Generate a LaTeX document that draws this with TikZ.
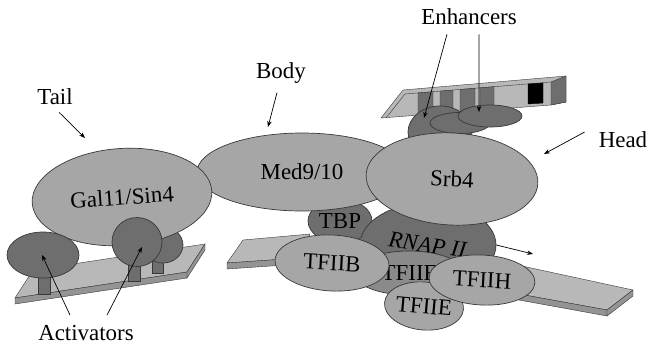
\documentclass[tikz,border=0pt]{standalone}
\usepackage{fontspec}
\setmainfont{Liberation Serif}
\usetikzlibrary{shapes.geometric,arrows.meta,positioning}

\definecolor{protlight}{gray}{0.65}
\definecolor{protmid}{gray}{0.54}
\definecolor{protdark}{gray}{0.43}
\definecolor{protline}{gray}{0.22}
\definecolor{dnaface}{gray}{0.72}
\definecolor{dnaedge}{gray}{0.58}

\tikzset{
	prot/.style={ellipse, draw=protline, line width=0.7bp, inner sep=0pt, font=\rmfamily\fontsize{23}{27}\selectfont},
	lt/.style={prot, fill=protlight},
	dk/.style={prot, fill=protdark},
	lbl/.style={inner sep=1bp, font=\rmfamily\fontsize{23}{27}\selectfont},
	arr/.style={-{Stealth[length=6bp,width=4.5bp]}, line width=0.7bp},
}

\begin{document}
\begin{tikzpicture}[x=1bp,y=-1bp]
	\newcommand\dt{6}
	\useasboundingbox (0,0) rectangle (648,347);

	% activator DNA
	\draw[fill=dnaface, draw=protline] (15,298) -- (33,270) -- (205,244) -- (187,272) -- cycle;
	\draw[fill=dnaedge, draw=protline] (15,298) -- (187,272) -- (187,272+\dt) -- (15,298+\dt) -- cycle;
	\draw[fill=dnaedge, draw=protline] (187,272) -- (205,244) -- (205,244+\dt) -- (187,272+\dt) -- cycle;
	\draw[fill=protdark, draw=protline] (38,272) rectangle (50,294);
	\draw[fill=protdark, draw=protline] (128,262) rectangle (140,281);
	\draw[fill=protdark, draw=protline] (152,255) rectangle (163,273);
	\node[dk, minimum width=40bp, minimum height=36bp] (actb) at (163,245) {};

	% core: TBP and RNAP II behind the mediator
	\node[dk, minimum width=64bp, minimum height=44bp] (tbp) at (340,221) {TBP};
	\node[dk, minimum width=136bp, minimum height=84bp] (rnap) at (428,245) {\rotatebox{-8}{\textit{RNAP II}}};

	% mediator: body, tail
	\node[lt, minimum width=210bp, minimum height=78bp] (med) at (302,172) {Med9/10};
	\node[lt, rotate=4, minimum width=180bp, minimum height=97bp] (gal) at (122,197) {Gal11/Sin4};
	\node[dk, minimum width=72bp, minimum height=46bp] (actl) at (43,255) {};
	\node[dk, minimum width=50bp, minimum height=49bp] (actr) at (137,242) {};

	% enhancer DNA
	\draw[fill=dnaface, draw=protline] (381,118) -- (403,90) -- (566,76) -- (566,102) -- (551,105) -- cycle;
	\draw[protline] (386,118) -- (405,94) -- (551,82); % rim
	\foreach \a/\b in {418/433,440/453,460/475,480/494}
		\draw[fill=protdark, draw=protline] (\a,{94-0.082*(\a-405)}) -- (\b,{94-0.082*(\b-405)}) -- (\b,{118-0.076*(\b-381)}) -- (\a,{118-0.076*(\a-381)}) -- cycle;
	\draw[fill=black] (528,84) -- (543,83) -- (543,103) -- (528,104) -- cycle;
	\draw[fill=protdark, draw=protline] (551,82) -- (566,76) -- (566,102) -- (551,105) -- cycle;
	\node[dk, minimum width=64bp, minimum height=52bp] (enhb) at (440,132) {};
	\node[dk, minimum width=60bp, minimum height=21bp] (enhm) at (460,123) {};
	\node[dk, minimum width=64bp, minimum height=22bp] (enhr) at (490,116) {};

	% head
	\node[lt, rotate=-3, minimum width=172bp, minimum height=92bp] (srb) at (452,179) {Srb4};

	% promoter DNA
	\draw[fill=dnaface, draw=protline] (227,263) -- (243,240) -- (310,234) -- (300,258) -- cycle;
	\draw[fill=dnaedge, draw=protline] (227,263) -- (300,258) -- (300,258+\dt) -- (227,263+\dt) -- cycle;
	\draw[fill=dnaface, draw=protline] (497,290) -- (522,266) -- (633,290) -- (607,310) -- cycle;
	\draw[fill=dnaedge, draw=protline] (497,290) -- (607,310) -- (607,310+\dt) -- (497,290+\dt) -- cycle;
	\draw[fill=dnaedge, draw=protline] (607,310) -- (633,290) -- (633,290+\dt) -- (607,310+\dt) -- cycle;

	% general factors
	\node[prot, fill=protmid, minimum width=110bp, minimum height=44bp] (tfiif) at (409,273) {TFIIF};
	\node[lt, rotate=-3, minimum width=114bp, minimum height=56bp] (tfiib) at (332,263) {TFIIB};
	\node[lt, rotate=-5, minimum width=78bp, minimum height=48bp] (tfiie) at (424,306) {TFIIE};
	\node[lt, rotate=-3, minimum width=106bp, minimum height=50bp] (tfiih) at (482,280) {TFIIH};

	\coordinate (txtip) at (533,254);
	\draw[arr] (rnap.east) -- (txtip);

	% labels
	\node[lbl] (tail) at (55,97) {Tail};
	\node[lbl] (body) at (281,73) {Body};
	\node[lbl] (enh) at (469,17) {Enhancers};
	\node[lbl] (head) at (623,140) {Head};
	\node[lbl] (act) at (86,333) {Activators};

	\coordinate (tailtip) at (85,138);
	\coordinate (bodytip) at (268,127);
	\coordinate (enhtipa) at (424,118);
	\coordinate (enhtipb) at (479,112);
	\coordinate (headtip) at (544,154);
	\coordinate (acttipa) at (42,255);
	\coordinate (acttipb) at (142,247);

	\draw[arr] ([xshift=4bp,yshift=-6bp]tail.south) -- (tailtip);
	\draw[arr] ([xshift=-4bp,yshift=-8bp]body.south) -- (bodytip);
	\draw[arr] ([xshift=-22bp,yshift=-8bp]enh.south) -- (enhtipa);
	\draw[arr] ([xshift=10bp,yshift=-8bp]enh.south) -- (enhtipb);
	\draw[arr] ([xshift=-13bp,yshift=8bp]head.west) -- (headtip);
	\draw[arr] ([xshift=-16bp,yshift=9bp]act.north) -- (acttipa);
	\draw[arr] ([xshift=21bp,yshift=9bp]act.north) -- (acttipb);
\end{tikzpicture}
\end{document}
